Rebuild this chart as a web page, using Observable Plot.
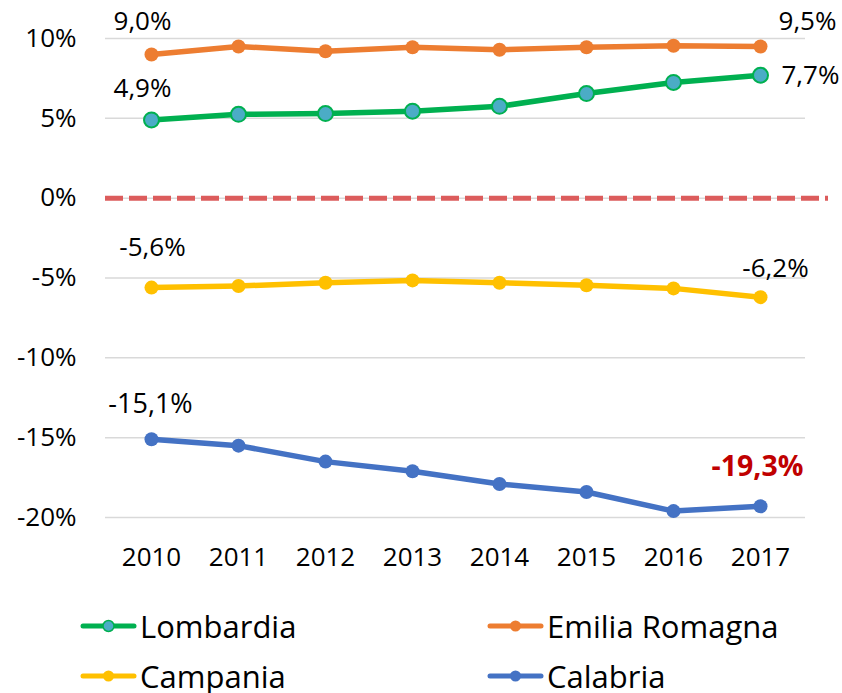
<!DOCTYPE html>
<html>
<head>
<meta charset="utf-8">
<script src="https://cdn.jsdelivr.net/npm/d3@7"></script>
<script src="https://cdn.jsdelivr.net/npm/@observablehq/plot@0.6"></script>
<style>
  body { margin: 0; background: #fff; font-family: "Open Sans", sans-serif; }
  #chart { position: relative; width: 842px; height: 693px; overflow: hidden; }
  .legend { position: absolute; left: 0; top: 601px; width: 842px; font-size: 31px; color: #000; }
  .item { position: absolute; display: flex; align-items: center; height: 50px; white-space: nowrap; }
  .item svg { margin-right: 3px; }
</style>
</head>
<body>
<div id="chart"></div>
<script>
const years = [2010, 2011, 2012, 2013, 2014, 2015, 2016, 2017];
const regions = ["Lombardia", "Emilia Romagna", "Campania", "Calabria"];
const lombardia = [4.9, 5.25, 5.3, 5.45, 5.75, 6.55, 7.25, 7.7];
const emiliaRomagna = [9.0, 9.5, 9.2, 9.45, 9.3, 9.45, 9.55, 9.5];
const campania = [-5.6, -5.5, -5.3, -5.15, -5.3, -5.45, -5.65, -6.2];
const calabria = [-15.1, -15.5, -16.5, -17.1, -17.9, -18.4, -19.6, -19.3];
const yTicks = [-20, -15, -10, -5, 0, 5, 10];
const colors = ["#00b050", "#ed7d31", "#ffc000", "#4472c4"];

const seriesValues = [lombardia, emiliaRomagna, campania, calabria];
const data = [];
regions.forEach((r, i) => years.forEach((y, j) => data.push({region: r, year: y, value: seriesValues[i][j]})));
const pick = (r, y) => data.filter(d => d.region === r && d.year === y);
const fmt = v => v.toFixed(1).replace(".", ",") + "%";

const textMark = (r, y, opts) => Plot.text(pick(r, y), {
  x: "year", y: "value", text: d => fmt(d.value),
  fontSize: 26, fill: "#000", ...opts
});

const plot = Plot.plot({
  width: 842,
  height: 580,
  marginLeft: 105,
  marginRight: 14,
  marginTop: 38,
  marginBottom: 63,
  style: { fontFamily: "Open Sans, sans-serif", fontSize: "26px", color: "#000", background: "#fff" },
  x: { type: "point", domain: years, padding: 0.5, range: [105, 805], label: null },
  y: { domain: [-20, 10], label: null },
  color: { domain: regions, range: colors },
  marks: [
    Plot.ruleY(yTicks, { stroke: "#d9d9d9", strokeWidth: 1.5, insetRight: 23 }),
    Plot.ruleY([0], { stroke: "#dc5c5c", strokeWidth: 5, strokeDasharray: "18,6" }),
    Plot.axisY({ ticks: yTicks, tickSize: 0, tickPadding: 29, tickFormat: d => d + "%", fontSize: 26, label: null }),
    Plot.axisX({ tickSize: 0, tickPadding: 30, tickFormat: d => String(d), fontSize: 26, label: null }),
    Plot.line(data, { x: "year", y: "value", z: "region", stroke: "region", strokeWidth: 5.5, strokeLinejoin: "round", strokeLinecap: "round" }),
    Plot.dot(data.filter(d => d.region !== "Lombardia"), { x: "year", y: "value", r: 7, fill: "region", stroke: "region", strokeWidth: 0 }),
    Plot.dot(data.filter(d => d.region === "Lombardia"), { x: "year", y: "value", r: 7.5, fill: "#4bacc6", stroke: "#00b050", strokeWidth: 2 }),
    textMark("Emilia Romagna", 2010, { dx: -9, dy: -33 }),
    textMark("Emilia Romagna", 2017, { dx: 47, dy: -25 }),
    textMark("Lombardia", 2010, { dx: -9, dy: -31 }),
    textMark("Lombardia", 2017, { dx: 21, dy: 0, textAnchor: "start" }),
    textMark("Campania", 2010, { dx: 1, dy: -40 }),
    textMark("Campania", 2017, { dx: 15, dy: -28 }),
    textMark("Calabria", 2010, { dx: -1, dy: -35, fontSize: 27 }),
    textMark("Calabria", 2017, { dx: -3, dy: -39, fill: "#c00000", fontWeight: "bold", fontSize: 28.5 })
  ]
});

const chart = document.getElementById("chart");
chart.appendChild(plot);

const legend = document.createElement("div");
legend.className = "legend";
const positions = [[80, 0], [487, 0], [80, 50], [487, 50]];
regions.forEach((r, i) => {
  const item = document.createElement("div");
  item.className = "item";
  item.style.left = positions[i][0] + "px";
  item.style.top = positions[i][1] + "px";
  const isL = r === "Lombardia";
  item.innerHTML = `<svg width="57" height="16"><line x1="3" y1="8" x2="54" y2="8" stroke="${colors[i]}" stroke-width="5" stroke-linecap="round"/><circle cx="28.5" cy="8" r="5.5" fill="${isL ? "#4bacc6" : colors[i]}" stroke="${colors[i]}" stroke-width="${isL ? 1.5 : 0}"/></svg><span>${r}</span>`;
  legend.appendChild(item);
});
chart.appendChild(legend);
</script>
</body>
</html>
